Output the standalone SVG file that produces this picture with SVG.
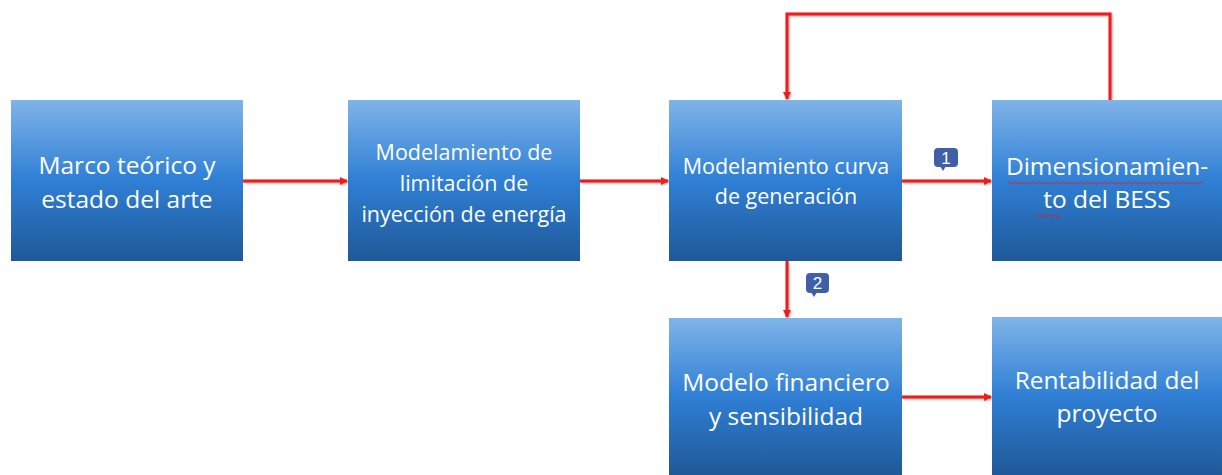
<svg xmlns="http://www.w3.org/2000/svg" width="1222" height="475" viewBox="0 0 1222 475">
<defs>
<linearGradient id="g" x1="0" y1="0" x2="0" y2="1">
<stop offset="0" stop-color="#7fb4e8"/>
<stop offset="0.5" stop-color="#2f7fd5"/>
<stop offset="1" stop-color="#1f5898"/>
</linearGradient>
<marker id="ah" markerWidth="8" markerHeight="8" refX="7" refY="4" orient="auto" markerUnits="userSpaceOnUse">
<path d="M0,0 L8,4 L0,8 Z" fill="#ee1c1c"/>
</marker>
<filter id="sh" x="-5%" y="-5%" width="110%" height="110%">
<feDropShadow dx="1" dy="1" stdDeviation="0.8" flood-color="#000" flood-opacity="0.35"/>
</filter>
</defs>
<style>
.box{fill:url(#g);}
.t{font-family:"Open Sans","Liberation Sans",sans-serif;fill:#fff;text-anchor:middle;}
.l{font-size:24.5px;}
.s{font-size:21.5px;}
.c{fill:none;stroke:#ee1c1c;stroke-width:3;}
.badge{fill:#3f5fa6;}
.bt{font-family:"Liberation Sans",sans-serif;font-size:17px;fill:#fff;text-anchor:middle;}
.sq{fill:none;stroke:#e02020;stroke-width:1;}
</style>
<rect width="1222" height="475" fill="#fff"/>
<g id="connectors" filter="url(#sh)">
<line class="c" x1="243" y1="181" x2="347" y2="181" marker-end="url(#ah)"/>
<line class="c" x1="580" y1="181" x2="668" y2="181" marker-end="url(#ah)"/>
<line class="c" x1="902" y1="181" x2="991" y2="181" marker-end="url(#ah)"/>
<line class="c" x1="787" y1="261" x2="787" y2="317" marker-end="url(#ah)"/>
<line class="c" x1="902" y1="397" x2="991" y2="397" marker-end="url(#ah)"/>
<polyline class="c" points="1110,100 1110,14 787,14 787,99" marker-end="url(#ah)"/>
</g>
<g id="n1">
<rect class="box" x="11" y="100" width="232" height="161"/>
<text class="t l" x="127" y="174">Marco teórico y</text>
<text class="t l" x="127" y="208">estado del arte</text>
</g>
<g id="n2">
<rect class="box" x="348" y="100" width="232" height="161"/>
<text class="t s" x="464" y="160">Modelamiento de</text>
<text class="t s" x="464" y="191">limitación de</text>
<text class="t s" x="464" y="222">inyección de energía</text>
</g>
<g id="n3">
<rect class="box" x="669" y="100" width="233" height="161"/>
<text class="t s" x="786" y="174">Modelamiento curva</text>
<text class="t s" x="786" y="204">de generación</text>
</g>
<g id="n4">
<rect class="box" x="992" y="100" width="230" height="161"/>
<text class="t l" x="1107" y="175">Dimensionamien-</text>
<text class="t l" x="1107" y="208">to del BESS</text>
<path class="sq" d="M1008,183 q1.5,-2 3,0 t3,0 t3,0 t3,0 t3,0 t3,0 t3,0 t3,0 t3,0 t3,0 t3,0 t3,0 t3,0 t3,0 t3,0 t3,0 t3,0 t3,0 t3,0 t3,0 t3,0 t3,0 t3,0 t3,0 t3,0 t3,0 t3,0 t3,0 t3,0 t3,0 t3,0 t3,0 t3,0 t3,0 t3,0 t3,0 t3,0 t3,0 t3,0 t3,0 t3,0 t3,0 t3,0 t3,0 t3,0 t3,0 t3,0 t3,0 t3,0 t3,0 t3,0 t3,0 t3,0 t3,0 t3,0 t3,0 t3,0 t3,0 t3,0 t3,0 t3,0 t3,0 t3,0 t3,0 t3,0"/>
<path class="sq" d="M1036,216 q1.5,-2 3,0 t3,0 t3,0 t3,0 t3,0 t3,0 t3,0 t3,0"/>
</g>
<g id="n5">
<rect class="box" x="669" y="318" width="233" height="157"/>
<text class="t l" x="786" y="391">Modelo financiero</text>
<text class="t l" x="786" y="425">y sensibilidad</text>
</g>
<g id="n6">
<rect class="box" x="992" y="317" width="230" height="158"/>
<text class="t l" x="1107" y="389">Rentabilidad del</text>
<text class="t l" x="1107" y="422">proyecto</text>
</g>
<g id="b1">
<rect class="badge" x="934" y="148" width="24" height="19" rx="4"/>
<path class="badge" d="M940,166 L943,171 L946,166 Z"/>
<text class="bt" x="946" y="164">1</text>
</g>
<g id="b2">
<rect class="badge" x="806" y="273" width="23" height="20" rx="4"/>
<path class="badge" d="M811,292 L814,297 L817,292 Z"/>
<text class="bt" x="817.5" y="289">2</text>
</g>
</svg>
